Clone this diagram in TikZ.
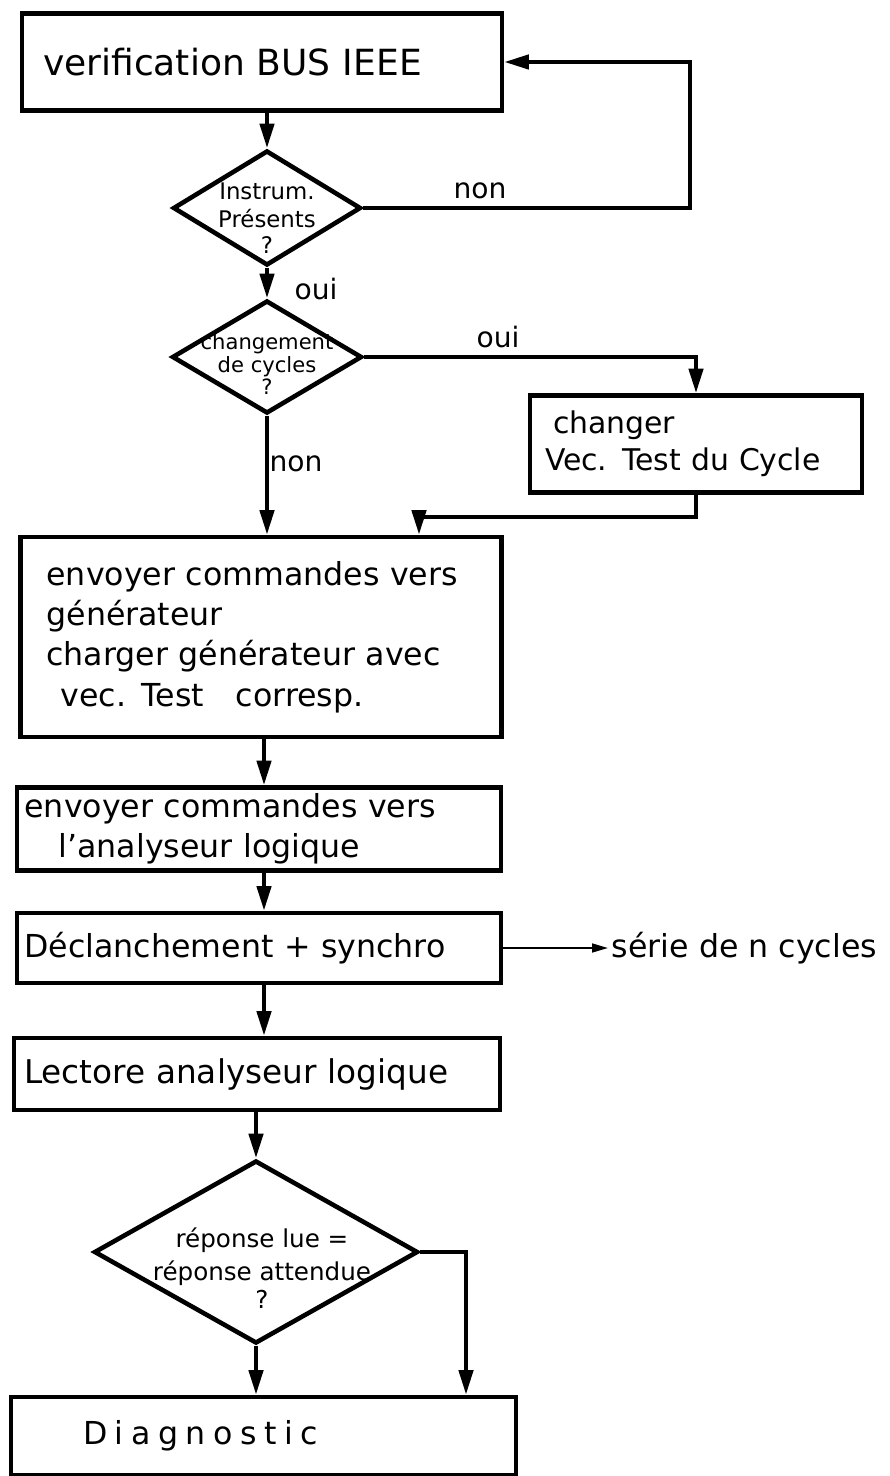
\documentclass[tikz,border=0pt]{standalone}
\usepackage{fontspec}
\setmainfont{DejaVu Sans}
\usetikzlibrary{arrows.meta, shapes.geometric, positioning, calc}

\begin{document}
\begin{tikzpicture}[
    x=0.02cm, y=-0.02cm,
    % ---------------------------------------------------------
    % STYLES
    % ---------------------------------------------------------
    procbox/.style={
        rectangle,
        draw=black,
        line width=2.6pt,
        align=left,
        inner ysep=2pt,
        font=\fontsize{18}{23}\selectfont
    },
    decision/.style={
        diamond,
        draw=black,
        line width=2.6pt,
        inner sep=0pt
    },
    dtext/.style={
        align=center,
        inner sep=0pt
    },
    flow/.style={
        draw=black,
        line width=2.4pt,
        -{Triangle[length=14pt, width=8pt]}
    },
    thin flow/.style={
        draw=black,
        line width=1.1pt,
        -{Triangle[length=9pt, width=5pt]}
    },
    answer/.style={
        font=\fontsize{16}{18}\selectfont,
        inner sep=1pt
    }
]

% fond blanc + cadre de la page
\fill[white] (0,0) rectangle (889,1476);
\useasboundingbox (0,0) rectangle (889,1476);

% ---------------------------------------------------------
% 1. POINTS DE PASSAGE
% ---------------------------------------------------------
\coordinate (loopx) at (690,0);
\coordinate (join) at (419,517);
\coordinate (side) at (466,1252);
\coordinate (spine) at (264,0);

% ---------------------------------------------------------
% 2. BLOCS ET TESTS
% ---------------------------------------------------------
\node[procbox, minimum height=1.94cm, text width=8.76cm, inner xsep=0.42cm, font=\fontsize{20.5}{24}\selectfont] (verif) at (262,62) {verification BUS IEEE};

\node[decision, minimum width=3.76cm, minimum height=2.3cm] (instr) at (267,208) {};
\node[dtext, font=\fontsize{13}{16}\selectfont] (instrtxt) at (267,218) {Instrum.\\Présents\\[-1pt]?};

\node[decision, minimum width=3.8cm, minimum height=2.26cm] (cyc) at (267,357) {};
\node[dtext, font=\fontsize{12}{13}\selectfont] (cyctxt) at (267,364) {changement\\de cycles\\?};

\node[procbox, minimum height=1.94cm, text width=6.04cm, inner xsep=0.3cm, font=\fontsize{17}{21}\selectfont] (chg) at (696,444) {\hspace*{0.16cm}changer\\Vec. Test du Cycle};

\node[procbox, minimum height=4cm, text width=8.58cm, inner xsep=0.52cm] (gen) at (261,637) {envoyer commandes vers\\générateur\\charger générateur avec\\\hspace*{0.28cm}vec. Test\quad corresp.};

\node[procbox, minimum height=1.66cm, text width=9.38cm, inner xsep=0.15cm] (ana) at (259,829) {envoyer commandes vers\\\hspace*{0.68cm}l'analyseur logique};

\node[procbox, minimum height=1.4cm, text width=9.38cm, inner xsep=0.15cm] (sync) at (259,948) {Déclanchement + synchro};
\node[font=\fontsize{18}{22}\selectfont, anchor=west, inner sep=2pt] (serie) at (608,948) {série de n cycles};

\node[procbox, minimum height=1.44cm, text width=9.32cm, inner xsep=0.2cm, font=\fontsize{18.6}{23}\selectfont] (read) at (257,1074) {Lectore analyseur logique};

\node[decision, minimum width=6.48cm, minimum height=3.66cm] (resp) at (256,1252) {};
\node[dtext, font=\fontsize{14}{19}\selectfont] (resptxt) at (262,1268) {réponse lue =\\réponse attendue\\[-3pt]?};

\node[procbox, minimum height=1.56cm, text width=7.22cm, inner xsep=1.44cm] (diag) at (263.5,1436) {\addfontfeature{LetterSpace=24}Diagnostic};

% ---------------------------------------------------------
% 3. LIAISONS
% ---------------------------------------------------------
\draw[flow] (verif.south -| instr.north) -- (instr.north);
\draw[flow] (instr.east) -- (instr.east -| loopx) |- (verif.east);
\draw[flow] (instr.south) -- (cyc.north);
\draw[flow] (cyc.east) -| (chg.north);
\draw[flow] (cyc.south) -- (cyc.south |- gen.north);
\draw[flow] (chg.south) |- (join) -- (join |- gen.north);
\draw[flow] (gen.south -| spine) -- (ana.north -| spine);
\draw[flow] (ana.south -| spine) -- (sync.north -| spine);
\draw[flow] (sync.south -| spine) -- (read.north -| spine);
\draw[thin flow] (sync.east) -- (serie.west);
\draw[flow] (read.south -| resp.north) -- (resp.north);
\draw[flow] (resp.south) -- (resp.south |- diag.north);
\draw[flow] (resp.east) -- (side) -- (side |- diag.north);

% ---------------------------------------------------------
% 4. REPONSES OUI / NON
% ---------------------------------------------------------
\node[answer] (nonA) at (480,191) {non};
\node[answer] (ouiA) at (316,289) {oui};
\node[answer] (ouiB) at (498,337) {oui};
\node[answer] (nonB) at (296,464) {non};

\end{tikzpicture}
\end{document}
